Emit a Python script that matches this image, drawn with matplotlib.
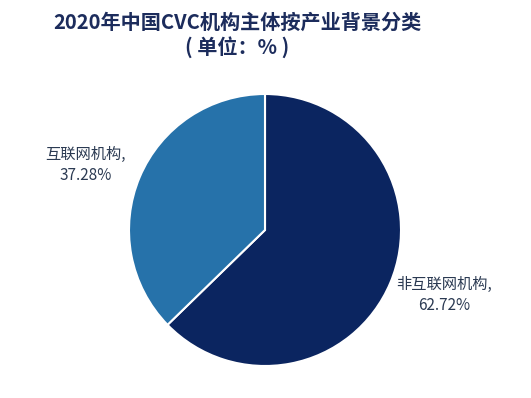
import matplotlib
matplotlib.use('Agg')
import matplotlib.pyplot as plt
import numpy as np

plt.rcParams['font.family'] = ['Noto Sans CJK SC', 'DejaVu Sans']

# data
categories = ['非互联网机构', '互联网机构']
shares = [62.72, 37.28]
colors = ['#0b2560', '#2672aa']

fig = plt.figure(figsize=(5.31, 3.98), dpi=100)
fig.patch.set_facecolor('white')

# pie centred at about (265, 230) px, radius ~136 px
cx, cy, r = 265, 230, 136
ax = fig.add_axes([(cx - r) / 531, (398 - cy - r) / 398, 2 * r / 531, 2 * r / 398])

labels = ['%s,\n%.2f%%' % (c, s) for c, s in zip(categories, shares)]
wedges, texts = ax.pie(shares, labels=labels, colors=colors, startangle=90,
                       counterclock=False, radius=1, labeldistance=1.42,
                       wedgeprops=dict(edgecolor='white', linewidth=1.5),
                       textprops=dict(fontsize=11, color='#2b3a52', linespacing=1.3))
# flatten label placement a little toward horizontal
for w, t in zip(wedges, texts):
    mid = np.deg2rad((w.theta1 + w.theta2) / 2)
    t.set_position((1.43 * np.cos(mid), 1.42 * np.sin(mid) * 0.87))
    t.set_ha('center')
    t.set_va('center')
ax.set_xlim(-1, 1)
ax.set_ylim(-1, 1)
ax.set_aspect('equal')

# title block sits a bit left of the pie centre
tx = 237 / 531
fig.text(tx, 1 - 22 / 398, '2020年中国CVC机构主体按产业背景分类', ha='center', va='center',
         fontsize=14.5, fontweight='bold', color='#1c2c5c')
fig.text(tx, 1 - 47 / 398, '( 单位：% )', ha='center', va='center',
         fontsize=14.5, fontweight='bold', color='#1c2c5c')

fig.savefig('out.png', dpi=100)
